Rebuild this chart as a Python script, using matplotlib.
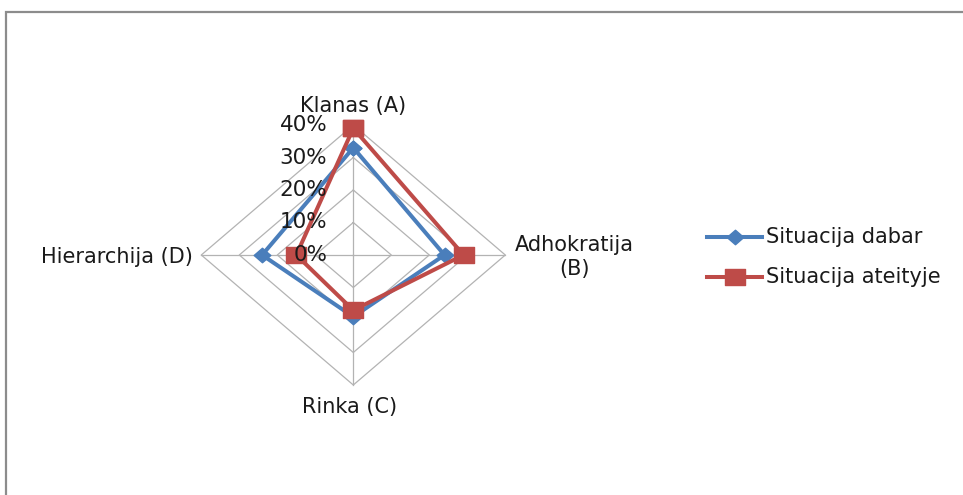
import numpy as np
import matplotlib
matplotlib.use("Agg")
import matplotlib.pyplot as plt
from matplotlib.path import Path
from matplotlib.patches import Rectangle
import matplotlib.transforms as mtransforms

# Chart data
categories = ["Klanas (A)", "Adhokratija\n(B)", "Rinka (C)", "Hierarchija (D)"]
series_names = ["Situacija dabar", "Situacija ateityje"]
dabar = [0.33, 0.24, 0.19, 0.24]
ateityje = [0.39, 0.29, 0.17, 0.15]
tick_values = [0.0, 0.1, 0.2, 0.3, 0.4]
tick_labels = ["0%", "10%", "20%", "30%", "40%"]

BLUE = "#4a7ebb"
RED = "#be4b48"
GRID = "#b3b3b3"
FONT = "DejaVu Sans"

W, H, DPI = 963, 495, 100
fig = plt.figure(figsize=(W / DPI, H / DPI), dpi=DPI)
fig.patch.set_facecolor("white")

# outer chart frame
fig.patches.append(Rectangle((6 / W, -0.1), 1.1, (H - 12) / H + 0.1,
                             transform=fig.transFigure, fill=False,
                             edgecolor="#8c8c8c", linewidth=1.6))

# radar area in pixels
cx, cy = 353.3, 255.0
rx, ry = 152.0, 130.0
rmax = 0.4
ax = fig.add_axes([(cx - rx) / W, (H - cy - ry) / H, 2 * rx / W, 2 * ry / H])
ax.set_xlim(-rmax, rmax)
ax.set_ylim(-rmax, rmax)
ax.axis("off")

angles = np.deg2rad([90, 0, 270, 180])
cosv, sinv = np.cos(angles), np.sin(angles)

# grid rings and spokes
for r in tick_values[1:]:
    xs = np.append(r * cosv, r * cosv[0])
    ys = np.append(r * sinv, r * sinv[0])
    ax.plot(xs, ys, color=GRID, lw=0.9, zorder=1, clip_on=False)
for c, s in zip(cosv, sinv):
    ax.plot([0, rmax * c], [0, rmax * s], color=GRID, lw=0.9, zorder=1, clip_on=False)

# markers stretched horizontally
diamond = Path([(0, 1), (1.15, 0), (0, -1), (-1.15, 0), (0, 1)],
               [Path.MOVETO, Path.LINETO, Path.LINETO, Path.LINETO, Path.CLOSEPOLY])
square = Path([(-1.3, -1), (1.3, -1), (1.3, 1), (-1.3, 1), (-1.3, -1)],
              [Path.MOVETO, Path.LINETO, Path.LINETO, Path.LINETO, Path.CLOSEPOLY])


def closed(vals):
    v = np.asarray(vals)
    xs = v * cosv
    ys = v * sinv
    return np.append(xs, xs[0]), np.append(ys, ys[0])


x1, y1 = closed(dabar)
x2, y2 = closed(ateityje)
ax.plot(x1, y1, color=BLUE, lw=2.9, marker=diamond, ms=12, mfc=BLUE, mec=BLUE,
        zorder=3, clip_on=False, solid_joinstyle="round")
ax.plot(x2, y2, color=RED, lw=2.9, marker=square, ms=15, mfc=RED, mec=RED,
        zorder=4, clip_on=False, solid_joinstyle="round")

# radial tick labels, left of the vertical axis
off = mtransforms.ScaledTranslation(-26 / DPI, 0, fig.dpi_scale_trans)
for v, lab in zip(tick_values, tick_labels):
    ax.text(0, v, lab, transform=ax.transData + off, ha="right", va="center",
            fontsize=15.5, family=FONT, color="#1a1a1a", zorder=5)

# category labels
lab_kw = dict(fontsize=15, family=FONT, color="#1a1a1a")
fig.text(353 / W, 1 - 106 / H, categories[0], ha="center", va="center", **lab_kw)
fig.text(574 / W, 1 - 257 / H, categories[1], ha="center", va="center",
         linespacing=1.3, **lab_kw)
fig.text(350 / W, 1 - 407 / H, categories[2], ha="center", va="center", **lab_kw)
fig.text(193 / W, 1 - 257 / H, categories[3], ha="right", va="center", **lab_kw)

# legend
leg_items = [(BLUE, diamond, 12, 237), (RED, square, 15, 277)]
for (col, mk, ms, ypx), name in zip(leg_items, series_names):
    yf = 1 - ypx / H
    fig.add_artist(plt.Line2D([707 / W, 762 / W], [yf, yf], transform=fig.transFigure,
                              color=col, lw=2.9))
    fig.add_artist(plt.Line2D([735 / W], [yf], transform=fig.transFigure,
                              color=col, marker=mk, ms=ms, mfc=col, mec=col, lw=0))
    fig.text(766 / W, yf, name, ha="left", va="center", **lab_kw)

fig.savefig("out.png", dpi=DPI, facecolor="white")
